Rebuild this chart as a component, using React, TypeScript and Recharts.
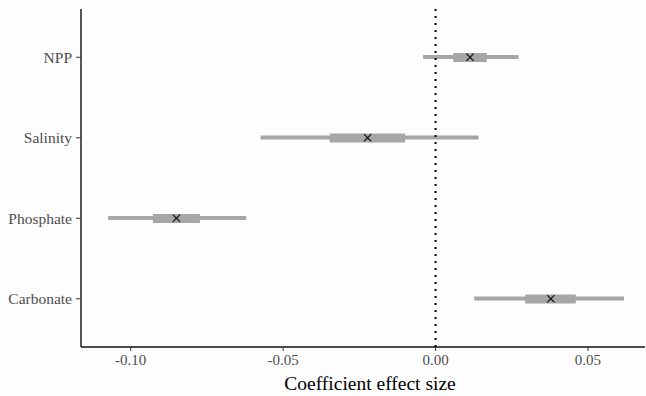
import { Bar, ComposedChart, Line, ReferenceLine, XAxis, YAxis } from "recharts";

const categories = ["NPP", "Salinity", "Phosphate", "Carbonate"];
const means = [0.0113, -0.0223, -0.085, 0.0378];
const outerLow = [-0.0041, -0.0574, -0.1074, 0.0127];
const outerHigh = [0.0272, 0.0141, -0.0621, 0.0618];
const innerLow = [0.0058, -0.0347, -0.0927, 0.0294];
const innerHigh = [0.0168, -0.01, -0.0773, 0.046];
const xTicks = [-0.1, -0.05, 0, 0.05];

const data = categories.map((name, i) => ({
  name,
  mean: means[i],
  outer: [outerLow[i], outerHigh[i]],
  inner: [innerLow[i], innerHigh[i]],
}));

const font = "'Liberation Serif', 'Times New Roman', serif";
const grey = "#a6a6a6";

function Cross(props: any) {
  const { cx, cy } = props;
  if (cx == null || cy == null) return null;
  const s = 3.6;
  return (
    <g stroke="#111" strokeWidth={1.3}>
      <line x1={cx - s} y1={cy - s} x2={cx + s} y2={cy + s} />
      <line x1={cx - s} y1={cy + s} x2={cx + s} y2={cy - s} />
    </g>
  );
}

function AxisTitle(props: any) {
  const { viewBox } = props;
  const cx = viewBox.x + viewBox.width / 2 + 7;
  return (
    <text x={cx} y={390} textAnchor="middle" fontFamily={font} fontSize={19.5} fill="#000">
      Coefficient effect size
    </text>
  );
}

export default function App() {
  return (
    <div style={{ width: 646, height: 396, background: "#fdfdfd" }}>
      <style>{`body{margin:0}`}</style>
      <ComposedChart
        width={646}
        height={396}
        data={data}
        layout="vertical"
        margin={{ top: 9, right: 1, bottom: 0, left: 0 }}
      >
        <XAxis
          type="number"
          domain={[-0.1163, 0.0687]}
          ticks={xTicks}
          allowDataOverflow
          tickFormatter={(v: number) => v.toFixed(2)}
          tick={{ fontFamily: font, fontSize: 15, fill: "#4d4d4d" }}
          tickSize={4}
          tickMargin={3}
          height={49}
          axisLine={{ stroke: "#111", strokeWidth: 1.4 }}
          tickLine={{ stroke: "#333" }}
          label={<AxisTitle />}
        />
        <YAxis
          yAxisId="a"
          type="category"
          dataKey="name"
          width={81}
          padding={{ top: 8, bottom: 8 }}
          tick={{ fontFamily: font, fontSize: 15.5, fill: "#4d4d4d" }}
          tickSize={5}
          tickMargin={4}
          axisLine={{ stroke: "#111", strokeWidth: 1.4 }}
          tickLine={{ stroke: "#333" }}
        />
        <YAxis yAxisId="b" type="category" dataKey="name" hide padding={{ top: 8, bottom: 8 }} />
        <Bar yAxisId="a" dataKey="outer" barSize={4} fill={grey} isAnimationActive={false} />
        <Bar yAxisId="b" dataKey="inner" barSize={9} fill={grey} isAnimationActive={false} />
        <ReferenceLine
          yAxisId="a"
          x={0}
          stroke="#000"
          strokeWidth={2}
          strokeDasharray="2 5"
        />
        <Line
          yAxisId="a"
          dataKey="mean"
          stroke="none"
          dot={<Cross />}
          activeDot={false}
          isAnimationActive={false}
        />
      </ComposedChart>
    </div>
  );
}
